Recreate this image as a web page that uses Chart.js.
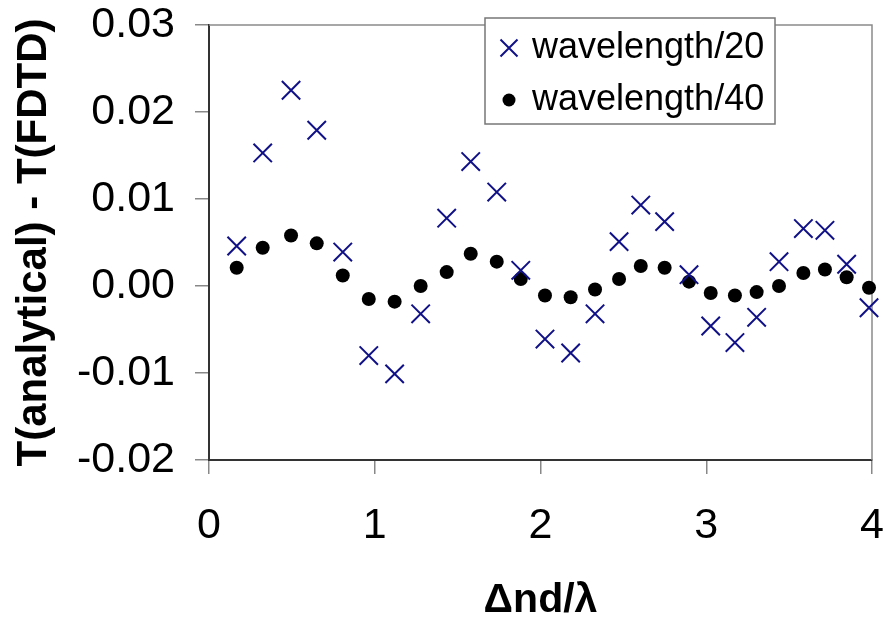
<!DOCTYPE html>
<html>
<head>
<meta charset="utf-8">
<script src="https://cdn.jsdelivr.net/npm/chart.js@4/dist/chart.umd.min.js"></script>
<style>
  html, body { margin: 0; padding: 0; background: #fff; }
  #wrap { width: 887px; height: 626px; }
</style>
</head>
<body>
<div id="wrap"><canvas id="errChart" width="887" height="626"></canvas></div>
<script>
// Values
const xValues = [0.167, 0.324, 0.495, 0.650, 0.807, 0.964, 1.120, 1.277, 1.434, 1.579,
  1.736, 1.881, 2.027, 2.182, 2.329, 2.474, 2.605, 2.749, 2.896, 3.027,
  3.173, 3.304, 3.439, 3.586, 3.716, 3.847, 3.982];
const wave20 = [0.0046, 0.0153, 0.0225, 0.0179, 0.0039, -0.0080, -0.0101, -0.0032, 0.0078, 0.0143,
  0.0108, 0.0018, -0.0061, -0.0077, -0.0032, 0.0051, 0.0093, 0.0074, 0.0013, -0.0046,
  -0.0065, -0.0036, 0.0028, 0.0066, 0.0064, 0.0025, -0.0025];
const wave40 = [0.0021, 0.0044, 0.0058, 0.0049, 0.0012, -0.0015, -0.0018, 0.0000, 0.0016, 0.0037,
  0.0028, 0.0008, -0.0011, -0.0013, -0.0004, 0.0008, 0.0023, 0.0021, 0.0005, -0.0008,
  -0.0011, -0.0007, 0.0000, 0.0015, 0.0019, 0.0010, -0.0002];
const seriesNames = ['wavelength/20', 'wavelength/40'];
const xTickLabels = ['0', '1', '2', '3', '4'];
const yTickLabels = ['-0.02', '-0.01', '0.00', '0.01', '0.02', '0.03'];

const FONT = "'Liberation Sans', Arial, sans-serif";

function toPoints(ys) {
  return ys.map((y, i) => ({ x: xValues[i], y: y }));
}

// legend box in the top right of the plot, plus the grey frame on top/right
const boxLegend = {
  id: 'boxLegend',
  beforeDatasetsDraw(chart) {
    const { ctx, chartArea } = chart;
    ctx.save();
    ctx.strokeStyle = '#8a8a8a';
    ctx.lineWidth = 1.5;
    ctx.beginPath();
    ctx.moveTo(chartArea.left, chartArea.top);
    ctx.lineTo(chartArea.right, chartArea.top);
    ctx.lineTo(chartArea.right, chartArea.bottom);
    ctx.stroke();
    ctx.restore();
  },
  afterDraw(chart) {
    const { ctx } = chart;
    const x = 485, y = 18, w = 290, h = 106;
    ctx.save();
    ctx.fillStyle = '#fff';
    ctx.fillRect(x, y, w, h);
    ctx.strokeStyle = '#777';
    ctx.lineWidth = 1.5;
    ctx.strokeRect(x, y, w, h);
    ctx.font = '36px ' + FONT;
    ctx.textBaseline = 'alphabetic';
    const rows = [48, 100];
    chart.data.datasets.forEach((ds, i) => {
      const cy = rows[i];
      const cx = 509;
      if (ds.pointStyle === 'crossRot') {
        ctx.strokeStyle = ds.borderColor;
        ctx.lineWidth = ds.borderWidth;
        ctx.beginPath();
        const d = 8.5;
        ctx.moveTo(cx - d, cy - d); ctx.lineTo(cx + d, cy + d);
        ctx.moveTo(cx + d, cy - d); ctx.lineTo(cx - d, cy + d);
        ctx.stroke();
      } else {
        ctx.fillStyle = ds.backgroundColor;
        ctx.beginPath();
        ctx.arc(cx, cy, 6.5, 0, Math.PI * 2);
        ctx.fill();
      }
      ctx.fillStyle = '#000';
      ctx.fillText(ds.label, 532, cy + 10);
    });
    ctx.restore();
  }
};

new Chart(document.getElementById('errChart'), {
  type: 'scatter',
  data: {
    datasets: [
      {
        label: seriesNames[0],
        data: toPoints(wave20),
        pointStyle: 'crossRot',
        pointRadius: 13,
        borderColor: '#101088',
        backgroundColor: '#101088',
        borderWidth: 2,
        clip: false
      },
      {
        label: seriesNames[1],
        data: toPoints(wave40),
        pointStyle: 'circle',
        pointRadius: 7,
        borderWidth: 0,
        borderColor: '#000',
        backgroundColor: '#000',
        clip: false
      }
    ]
  },
  options: {
    responsive: false,
    animation: false,
    events: [],
    layout: { padding: { left: 0, top: 25, right: 15, bottom: 0 } },
    plugins: {
      legend: { display: false },
      tooltip: { enabled: false }
    },
    scales: {
      x: {
        type: 'linear',
        min: 0,
        max: 4,
        afterFit(scale) {
          scale.height = 166;
          scale.paddingLeft = 0;
          scale.paddingRight = 0;
        },
        afterBuildTicks(scale) {
          scale.ticks = xTickLabels.map(t => ({ value: Number(t) }));
        },
        ticks: {
          padding: 26,
          color: '#000',
          font: { family: FONT, size: 43 },
          maxRotation: 0,
          callback: (v, i) => xTickLabels[i]
        },
        grid: { drawOnChartArea: false, tickLength: 14, color: '#888', lineWidth: 1.5 },
        border: { color: '#333', width: 2 },
        title: {
          display: true,
          text: 'Δnd/λ',
          color: '#000',
          font: { family: FONT, size: 41, weight: 'bold' },
          padding: { top: 0, bottom: 1 }
        }
      },
      y: {
        type: 'linear',
        min: -0.02,
        max: 0.03,
        afterFit(scale) {
          scale.width = 209;
          scale.paddingTop = 0;
          scale.paddingBottom = 0;
        },
        afterBuildTicks(scale) {
          scale.ticks = yTickLabels.map(t => ({ value: Number(t) }));
        },
        ticks: {
          padding: 20,
          color: '#000',
          font: { family: FONT, size: 43 },
          callback: (v, i) => yTickLabels[i]
        },
        grid: { drawOnChartArea: false, tickLength: 14, color: '#888', lineWidth: 1.5 },
        border: { color: '#333', width: 2 },
        title: {
          display: true,
          text: 'T(analytical) - T(FDTD)',
          color: '#000',
          font: { family: FONT, size: 42, weight: 'bold' },
          padding: { top: 9, bottom: 0 }
        }
      }
    }
  },
  plugins: [boxLegend]
});
</script>
</body>
</html>
